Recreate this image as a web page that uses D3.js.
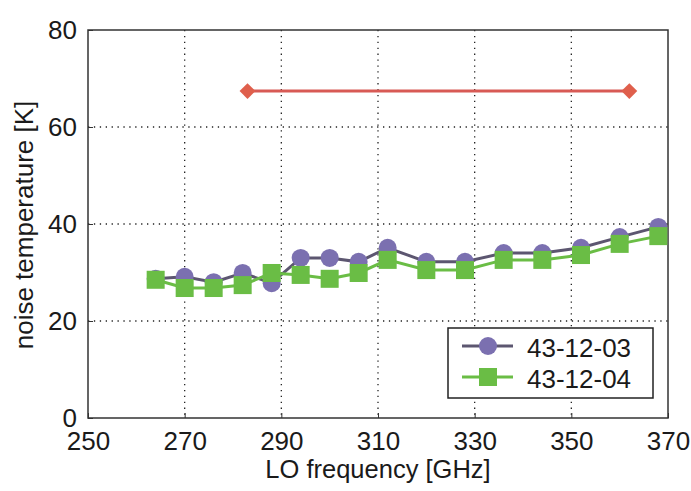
<!DOCTYPE html>
<html>
<head>
<meta charset="utf-8">
<script src="https://cdn.jsdelivr.net/npm/d3@7"></script>
<style>
  body { margin: 0; background: #fff; }
  text { font-family: "Liberation Sans", Arial, sans-serif; fill: #1a1a1a; }
</style>
</head>
<body>
<svg id="chart" width="691" height="491"></svg>
<script>
// LO frequencies (GHz) of the measured points
const freqs = [264, 270, 276, 282, 288, 294, 300, 306, 312, 320, 328, 336, 344, 352, 360, 368];
// noise temperature (K) per mixer
const tMixer03 = [28.7, 29.1, 28.0, 29.9, 27.8, 33.0, 33.0, 32.2, 35.1, 32.2, 32.2, 34.0, 34.0, 35.1, 37.3, 39.4];
const tMixer04 = [28.5, 26.8, 26.8, 27.4, 29.9, 29.5, 28.7, 29.9, 32.6, 30.5, 30.5, 32.6, 32.6, 33.6, 35.9, 37.5];
// reference level line (red)
const refFreqs = [283, 362];
const refTemps = [67.4, 67.4];

const xTicks = [250, 270, 290, 310, 330, 350, 370];
const yTicks = [0, 20, 40, 60, 80];
const seriesNames = ["43-12-03", "43-12-04"];

const svg = d3.select("#chart");
const margin = { top: 30, right: 23, bottom: 73, left: 88 };
const width = 691 - margin.left - margin.right,
      height = 491 - margin.top - margin.bottom;

const x = d3.scaleLinear().domain([250, 370]).range([0, width]);
const y = d3.scaleLinear().domain([0, 80]).range([height, 0]);

const g = svg.append("g")
  .attr("transform", `translate(${margin.left},${margin.top})`);

// dotted grid
g.selectAll(".vgrid")
  .data(xTicks.slice(1, -1))
  .join("line")
  .attr("x1", d => x(d)).attr("x2", d => x(d))
  .attr("y1", 0).attr("y2", height)
  .attr("stroke", "#222").attr("stroke-width", 1.3)
  .attr("stroke-dasharray", "1.3,4.6");

g.selectAll(".hgrid")
  .data(yTicks.slice(1, -1))
  .join("line")
  .attr("y1", d => y(d)).attr("y2", d => y(d))
  .attr("x1", 0).attr("x2", width)
  .attr("stroke", "#222").attr("stroke-width", 1.3)
  .attr("stroke-dasharray", "1.3,4.6");

// axes (ticks inward)
const xAxis = g.append("g")
  .attr("transform", `translate(0,${height})`)
  .call(d3.axisBottom(x).tickValues(xTicks).tickSizeInner(-5).tickSizeOuter(0).tickPadding(14));
const yAxis = g.append("g")
  .call(d3.axisLeft(y).tickValues(yTicks).tickSizeInner(-5).tickSizeOuter(0).tickPadding(11));
[xAxis, yAxis].forEach(a => {
  a.selectAll("text").style("font-size", "26px").attr("fill", "#1a1a1a");
  a.selectAll("line").attr("stroke", "#333");
  a.select(".domain").remove();
});

// frame
g.append("rect")
  .attr("x", 0).attr("y", 0)
  .attr("width", width).attr("height", height)
  .attr("fill", "none").attr("stroke", "#333").attr("stroke-width", 1.5);

// red reference line with diamonds
const redColor = "#df5f4c";
g.append("path")
  .datum(refFreqs.map((f, i) => [f, refTemps[i]]))
  .attr("fill", "none").attr("stroke", "#d85a55").attr("stroke-width", 3)
  .attr("d", d3.line().x(d => x(d[0])).y(d => y(d[1])));
g.selectAll(".diamond")
  .data(refFreqs.map((f, i) => [f, refTemps[i]]))
  .join("path")
  .attr("transform", d => `translate(${x(d[0])},${y(d[1])})`)
  .attr("d", d3.symbol(d3.symbolDiamond2, 160))
  .attr("fill", redColor);

// data series
const purple = "#7b70b0", green = "#6abd45";
const line = d3.line().x(d => x(d[0])).y(d => y(d[1]));
const s03 = freqs.map((f, i) => [f, tMixer03[i]]);
const s04 = freqs.map((f, i) => [f, tMixer04[i]]);

g.append("path").datum(s03)
  .attr("fill", "none").attr("stroke", "#5c5670").attr("stroke-width", 3)
  .attr("d", line);
g.selectAll(".c03")
  .data(s03)
  .join("circle")
  .attr("cx", d => x(d[0])).attr("cy", d => y(d[1]))
  .attr("r", 9).attr("fill", purple);

g.append("path").datum(s04)
  .attr("fill", "none").attr("stroke", green).attr("stroke-width", 3)
  .attr("d", line);
g.selectAll(".s04")
  .data(s04)
  .join("rect")
  .attr("x", d => x(d[0]) - 9).attr("y", d => y(d[1]) - 9)
  .attr("width", 18).attr("height", 18)
  .attr("fill", green);

// legend
const lg = g.append("g").attr("transform", `translate(${448 - margin.left},${328 - margin.top})`);
lg.append("rect")
  .attr("width", 205).attr("height", 70)
  .attr("fill", "#fff").attr("stroke", "#222").attr("stroke-width", 1.5);
seriesNames.forEach((name, i) => {
  const ly = 18 + i * 31;
  lg.append("line")
    .attr("x1", 14).attr("x2", 65).attr("y1", ly).attr("y2", ly)
    .attr("stroke", i === 0 ? "#5c5670" : green).attr("stroke-width", 3);
  if (i === 0) {
    lg.append("circle").attr("cx", 40).attr("cy", ly).attr("r", 9).attr("fill", purple);
  } else {
    lg.append("rect").attr("x", 31).attr("y", ly - 9).attr("width", 18).attr("height", 18).attr("fill", green);
  }
  lg.append("text")
    .attr("x", 79).attr("y", ly + 11)
    .style("font-size", "26px")
    .text(name);
});

// axis titles
svg.append("text")
  .attr("x", margin.left + width / 2).attr("y", 478)
  .attr("text-anchor", "middle")
  .style("font-size", "25.5px")
  .text("LO frequency [GHz]");
svg.append("text")
  .attr("transform", `translate(33,${225}) rotate(-90)`)
  .attr("text-anchor", "middle")
  .style("font-size", "26px")
  .text("noise temperature [K]");
</script>
</body>
</html>
